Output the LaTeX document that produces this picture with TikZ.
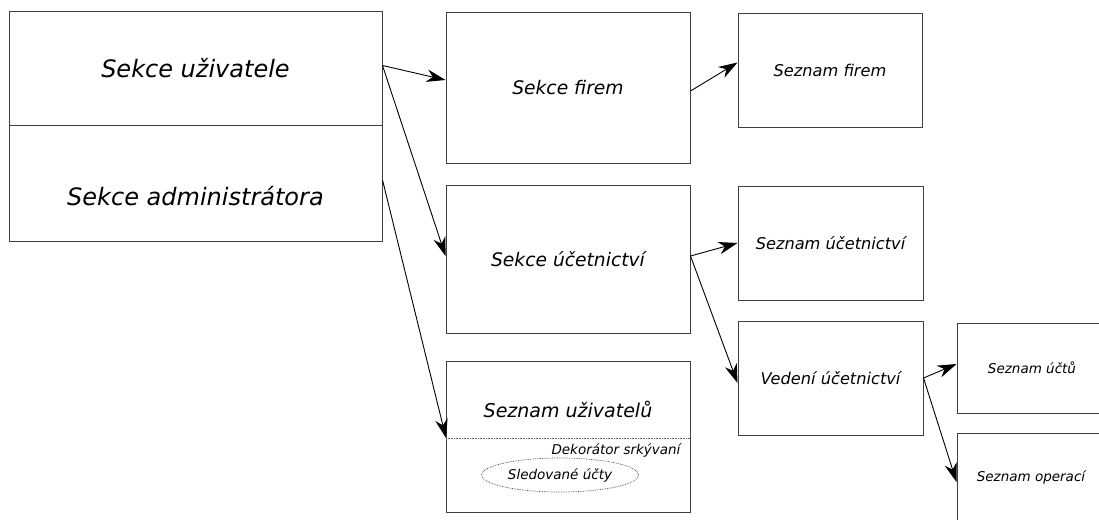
\documentclass[tikz,border=0pt]{standalone}
\usepackage{fontspec}
\setmainfont{DejaVu Sans}
\usetikzlibrary{arrows.meta,calc,shapes.geometric}
\tikzset{
  box/.style={draw=black!75, line width=1pt, rectangle, inner sep=0pt, font=\itshape},
  conn/.style={draw=black, line width=0.9pt, -{Stealth[length=19pt,width=12.5pt,inset=6pt]}},
  big/.style={font=\fontsize{24}{28}\selectfont\itshape},
  mid/.style={font=\fontsize{18.7}{22}\selectfont\itshape},
  small/.style={font=\fontsize{16.2}{19}\selectfont\itshape},
  tiny/.style={font=\fontsize{13.5}{16}\selectfont\itshape},
}
\begin{document}
\begin{tikzpicture}[x=1pt,y=-1pt]
\useasboundingbox (0,0) rectangle (1099,519);
\clip (0,0) rectangle (1099,519);

% left block: user section above, administrator section below
\node[box, big, minimum width=373pt, minimum height=113pt] (usr) at (195.5,68.5) {Sekce uživatele};
\node[box, minimum width=373pt, minimum height=116pt, label={[big, yshift=-13pt]center:Sekce administrátora}] (adm) at (195.5,183) {};

% second column
\node[box, mid, minimum width=244pt, minimum height=150pt] (firm) at (568,88) {Sekce firem};
\node[box, mid, minimum width=244pt, minimum height=148pt] (uct) at (568,259) {Sekce účetnictví};
\node[box, minimum width=244pt, minimum height=151pt] (usrlist) at (568,436.5) {};
\node[mid, font=\fontsize{19}{22}\selectfont\itshape] (usrlbl) at (568,409) {Seznam uživatelů};
\coordinate (decW) at (446,438);
\coordinate (decE) at (690,438);
\draw[black!60, line width=0.6pt, densely dotted] (decW) -- (decE);
\node[tiny, anchor=east] (dek) at (684,450) {Dekorátor srkývaní};
\node[tiny, draw=black!75, densely dotted, line width=0.7pt, ellipse, minimum width=157pt, minimum height=34pt, inner sep=0pt] (sled) at (560,475) {Sledované účty};

% third column
\node[box, small, minimum width=184pt, minimum height=113pt] (sfirm) at (830,70.5) {Seznam firem};
\node[box, small, minimum width=185pt, minimum height=114pt] (suct) at (830.5,243) {Seznam účetnictví};
\node[box, small, minimum width=185pt, minimum height=114pt] (ved) at (830.5,378) {Vedení účetnictví};

% fourth column
\node[box, tiny, minimum width=150pt, minimum height=90pt] (ucty) at (1032,368) {Seznam účtů};
\node[box, minimum width=150pt, minimum height=110pt] (oper) at (1032,488) {};
\node[tiny] (operlbl) at (1031,477) {Seznam operací};

% connectors
\coordinate (usrOut) at ($(usr.east)+(0,-3)$);
\draw[conn] (usrOut) -- ([yshift=8pt]firm.west);
\draw[conn] (usrOut) -- ([yshift=3pt]uct.west);
\draw[conn] ($(adm.east)+(0,-3)$) -- (decW);
\draw[conn] ([yshift=-3pt]firm.east) -- ([yshift=8pt]sfirm.west);
\draw[conn] ([yshift=3pt]uct.east) -- (suct.west);
\draw[conn] ([yshift=3pt]uct.east) -- ([yshift=-5pt]ved.west);
\draw[conn] (ved.east) -- ([yshift=4pt]ucty.west);
\draw[conn] (ved.east) -- ([yshift=6pt]oper.west);
\end{tikzpicture}
\end{document}
